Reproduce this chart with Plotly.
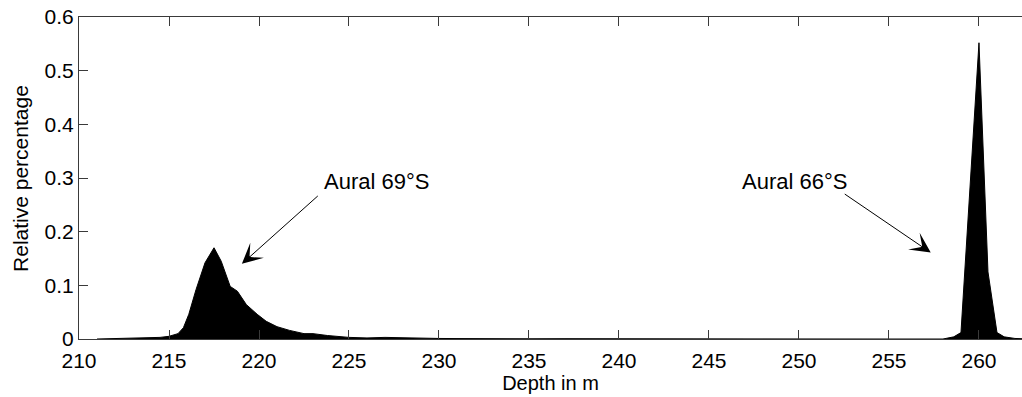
import plotly.graph_objects as go

# Depth (m) and relative percentage
depth = [211, 212, 213, 214, 214.5, 215, 215.5, 215.8, 216.1, 216.5, 217, 217.5,
         217.9, 218.4, 218.8, 219.3, 219.9, 220.4, 221, 221.7, 222.5, 223, 223.8,
         225, 226, 227, 228, 229, 230, 231, 232, 233, 235, 237, 240, 245, 250, 255,
         258, 258.6, 259, 260, 260.5, 261, 261.4, 262, 262.4]
rel_pct = [0, 0.0005, 0.001, 0.002, 0.003, 0.005, 0.010, 0.021, 0.046, 0.092, 0.142, 0.170,
           0.145, 0.098, 0.089, 0.064, 0.046, 0.033, 0.023, 0.016, 0.010, 0.010, 0.0065,
           0.003, 0.002, 0.003, 0.002, 0.0015, 0.001, 0.0008, 0.001, 0.0005, 0.0004, 0.0006, 0.0002, 0.0001, 0.0001, 0,
           0, 0.004, 0.012, 0.552, 0.125, 0.012, 0.004, 0.001, 0.0005]

x_ticks = [210, 215, 220, 225, 230, 235, 240, 245, 250, 255, 260]
y_ticks = [0, 0.1, 0.2, 0.3, 0.4, 0.5, 0.6]
y_tick_text = ["0", "0.1", "0.2", "0.3", "0.4", "0.5", "0.6"]

labels = ["Aural 69°S", "Aural 66°S"]
label_pos = [(223.5, 0.293), (246.7, 0.293)]
arrow_tip = [(219.05, 0.140), (257.32, 0.161)]
arrow_tail = [(223.35, 0.269), (252.46, 0.272)]

FONT = "Liberation Sans, Arial, sans-serif"
AX = "#3a3a3a"

fig = go.Figure()
fig.add_trace(go.Scatter(
    x=depth, y=rel_pct, mode="lines", fill="tozeroy",
    fillcolor="black", line=dict(color="black", width=1),
    showlegend=False, hoverinfo="skip"))

for text, (tx, ty) in zip(labels, label_pos):
    fig.add_annotation(x=tx, y=ty, xref="x", yref="y", text=text, showarrow=False,
                       xanchor="left", yanchor="middle",
                       font=dict(family=FONT, size=22, color="black"))

for (hx, hy), (tx, ty) in zip(arrow_tip, arrow_tail):
    fig.add_annotation(x=hx, y=hy, ax=tx, ay=ty, xref="x", yref="y",
                       axref="x", ayref="y", text="", showarrow=True,
                       arrowhead=3, arrowsize=3.4, arrowwidth=1, arrowcolor="black")

# y-axis title placed as a rotated annotation to match the reference position
fig.add_annotation(x=-0.0626, y=0.5, xref="paper", yref="paper",
                   text="Relative percentage", textangle=-90, showarrow=False,
                   xanchor="center", yanchor="middle",
                   font=dict(family=FONT, size=21, color="black"))

fig.update_layout(
    width=1022, height=397,
    margin=dict(l=79, r=0, t=17, b=58),
    paper_bgcolor="white", plot_bgcolor="white",
    font=dict(family=FONT, size=21, color="black"),
)
fig.update_xaxes(
    range=[210, 262.39], tickvals=x_ticks, ticks="inside", ticklen=9, tickwidth=1,
    tickcolor=AX, showline=True, linecolor=AX, linewidth=1, mirror="ticks",
    showgrid=False, zeroline=False, ticklabelstandoff=3,
    title=dict(text="Depth in m", font=dict(family=FONT, size=20), standoff=1),
    tickfont=dict(family=FONT, size=21),
)
fig.update_yaxes(
    range=[0, 0.6], tickvals=y_ticks, ticktext=y_tick_text, ticks="inside", ticklen=9,
    tickwidth=1, tickcolor=AX, showline=True, linecolor=AX, linewidth=1,
    showgrid=False, zeroline=False,
    tickfont=dict(family=FONT, size=21),
)

fig.write_html("out.html")
